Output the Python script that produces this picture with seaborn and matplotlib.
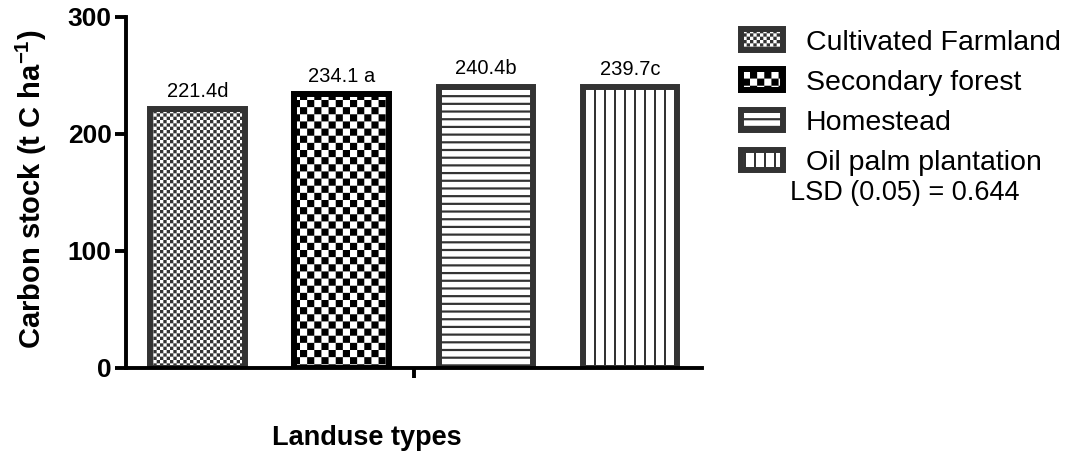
import matplotlib
matplotlib.use("Agg")
import matplotlib.pyplot as plt
import matplotlib.hatch as mhatch
from matplotlib.path import Path
import pandas as pd
import seaborn as sns

# ---- data -------------------------------------------------------------
landuse = ["Cultivated Farmland", "Secondary forest", "Homestead", "Oil palm plantation"]
carbon_stock = [221.4, 234.1, 240.4, 239.7]          # t C ha-1
mean_groups = ["d", " a", "b", "c"]                   # LSD grouping letters
lsd_value = 0.644
y_ticks = [0, 100, 200, 300]


# ---- fill patterns (checkerboards and stripes) as hatch tiles --------
class _RectTiles(mhatch.HatchPatternBase):
    key = "*"

    def __init__(self, hatch, density):
        n = hatch.count(self.key) if hatch else 0
        self.rects = self.tiles(n) if n else []
        self.num_vertices = 5 * len(self.rects)

    def tiles(self, n):
        return []

    def set_vertices_and_codes(self, vertices, codes):
        for i, (x0, y0, x1, y1) in enumerate(self.rects):
            vertices[5 * i:5 * i + 5] = [(x0, y0), (x1, y0), (x1, y1), (x0, y1), (x0, y0)]
            codes[5 * i:5 * i + 5] = [Path.MOVETO, Path.LINETO, Path.LINETO,
                                      Path.LINETO, Path.CLOSEPOLY]


class CheckerHatch(_RectTiles):
    key = "*"

    def tiles(self, n):
        cells = 2 * n
        s = 1.0 / cells
        return [(i * s, j * s, (i + 1) * s, (j + 1) * s)
                for i in range(cells) for j in range(cells) if (i + j) % 2 == 0]


class HStripeHatch(_RectTiles):
    key = "o"
    thick = 0.022

    def tiles(self, n):
        return [(0.0, (k + 0.5) / n - self.thick / 2, 1.0, (k + 0.5) / n + self.thick / 2)
                for k in range(n)]


class VStripeHatch(_RectTiles):
    key = "O"
    thick = 0.02

    def tiles(self, n):
        return [((k + 0.5) / n - self.thick / 2, 0.0, (k + 0.5) / n + self.thick / 2, 1.0)
                for k in range(n)]


mhatch._hatch_types[:] = [t for t in mhatch._hatch_types
                          if t.__name__ not in ("SmallCircles", "LargeCircles", "Stars")] \
    + [CheckerHatch, HStripeHatch, VStripeHatch]

bar_hatches = ["*" * 15, "*" * 7, "o" * 13, "O" * 10]
bar_edges = ["#333333", "#000000", "#333333", "#333333"]

# ---- style --------------------------------------------------------------
sns.set_style("ticks")
plt.rcParams["font.family"] = ["Liberation Sans", "DejaVu Sans"]
plt.rcParams["text.color"] = "black"
plt.rcParams["axes.labelcolor"] = "black"
plt.rcParams["xtick.color"] = "black"
plt.rcParams["ytick.color"] = "black"
plt.rcParams["hatch.linewidth"] = 0.0
plt.rcParams["mathtext.fontset"] = "custom"
plt.rcParams["mathtext.rm"] = "Liberation Sans"
plt.rcParams["mathtext.bf"] = "Liberation Sans:bold"
plt.rcParams["mathtext.it"] = "Liberation Sans:italic"

df = pd.DataFrame({"Landuse": landuse, "Carbon": carbon_stock})

fig = plt.figure(figsize=(10.83, 4.53), dpi=100)
ax = fig.add_axes([0.1159, 0.1883, 0.5323, 0.7742])

sns.barplot(data=df, x="Landuse", y="Carbon", hue="Landuse", order=landuse,
            hue_order=landuse, palette=["white"] * 4, saturation=1,
            width=0.656, linewidth=4.3, edgecolor="#333333",
            errorbar=None, legend=False, ax=ax)

bars = list(ax.patches)
for bar, h, ec in zip(bars, bar_hatches, bar_edges):
    bar.set_hatch(h)
    bar.set_edgecolor(ec)
    bar.set_linewidth(4.3)

for cont, v, g in zip(ax.containers, carbon_stock, mean_groups):
    ax.bar_label(cont, labels=[f"{v:.1f}{g}"], padding=6, fontsize=14.5, color="black")

# ---- axes ---------------------------------------------------------------
ax.set_ylim(0, 300)
ax.set_yticks(y_ticks)
ax.set_xlim(-0.5, 3.5)
ax.set_xticks([1.5])
ax.set_xticklabels([""])
ax.tick_params(axis="y", length=8, width=2.8, labelsize=19, pad=2,
               color="black", labelcolor="black")
ax.tick_params(axis="x", length=7, width=2.8, color="black")
for lbl in ax.get_yticklabels():
    lbl.set_fontweight("bold")

sns.despine(ax=ax)
for side in ("left", "bottom"):
    ax.spines[side].set_linewidth(2.8)
    ax.spines[side].set_color("black")

ax.set_xlabel("Landuse types", fontsize=19.5, fontweight="bold", color="black")
ax.xaxis.set_label_coords(0.419, -0.163)
ax.set_ylabel(r"Carbon stock (t C ha$^{\mathbf{-1}}$)", fontsize=21,
              fontweight="bold", color="black")
ax.yaxis.set_label_coords(-0.133, 0.51)

leg = ax.legend(handles=bars, labels=landuse, loc="upper left",
                bbox_to_anchor=(0.684, 0.935), bbox_transform=fig.transFigure,
                frameon=False, fontsize=20.5, handlelength=1.49, handleheight=0.72,
                handletextpad=0.79, labelspacing=0.49, borderpad=0, borderaxespad=0)
for t in leg.get_texts():
    t.set_color("black")

fig.text(0.8356, 0.5585, f"LSD (0.05) = {lsd_value}", ha="center", va="baseline",
         fontsize=19.5, color="black")

fig.savefig("out.png", dpi=100)
